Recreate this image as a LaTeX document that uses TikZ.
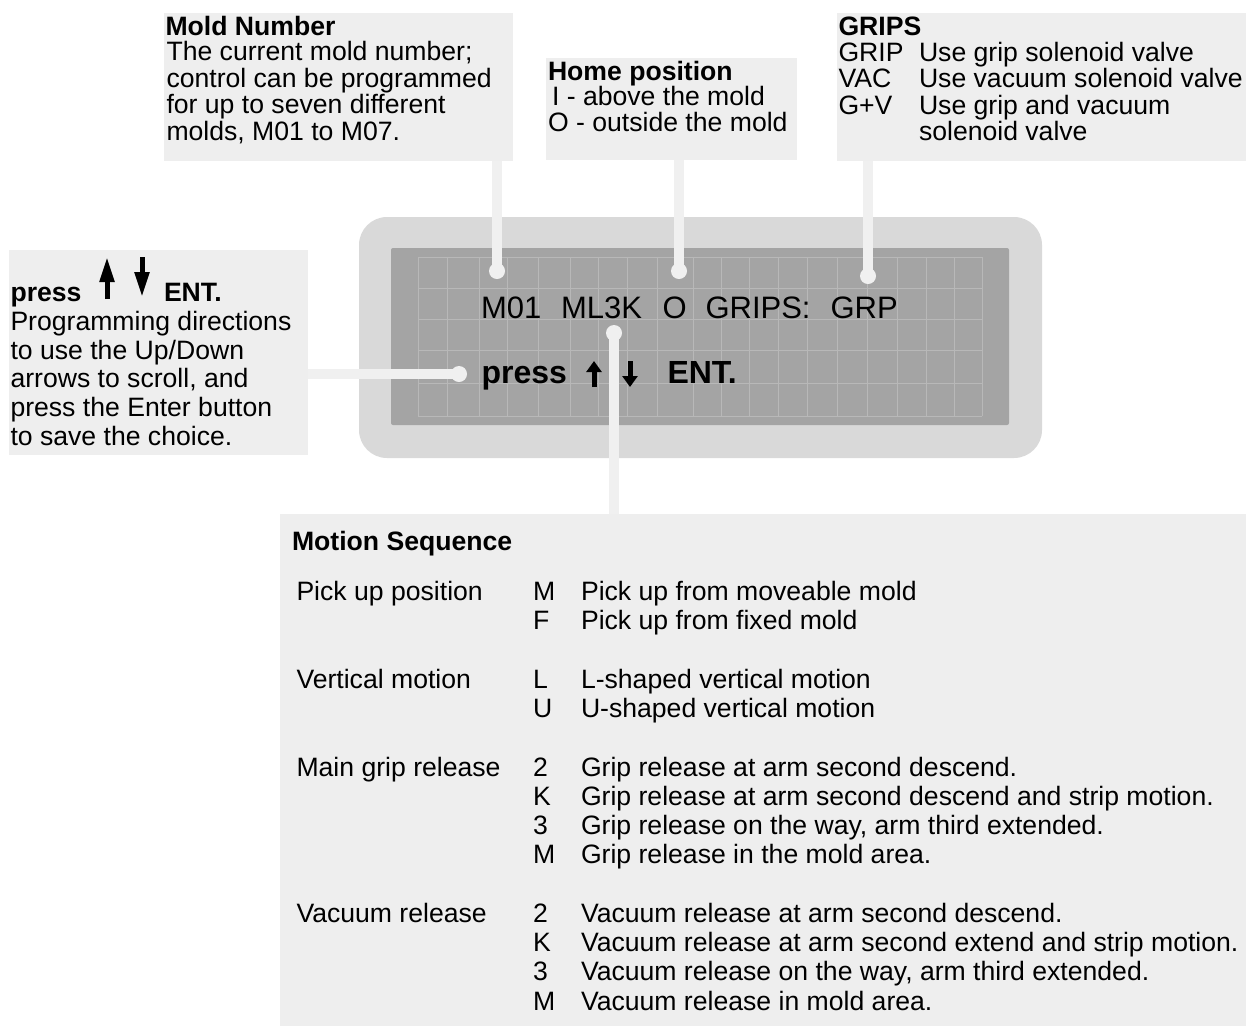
\documentclass[tikz,border=0pt]{standalone}
\usepackage{fontspec}
\setmainfont{Liberation Sans}
\usetikzlibrary{arrows.meta}
\definecolor{boxgray}{HTML}{EEEEEE}
\definecolor{conngray}{HTML}{F0F0F0}
\definecolor{bezel}{HTML}{D9D9D9}
\definecolor{lcd}{HTML}{A4A4A4}
\definecolor{lcdgrid}{HTML}{B8B8B8}
\newcommand\mybody{\fontsize{26.6}{26.4}\selectfont}
\newcommand\mylcd{\fontsize{31}{32}\selectfont}
\newcommand\mylcdb{\fontsize{32}{33}\selectfont}
\tikzset{
  box/.style={fill=boxgray, draw=none, inner sep=0pt, outer sep=0pt, anchor=north west},
  txt/.style={anchor=base west, inner sep=0pt, outer sep=0pt, font=\mybody},
  btxt/.style={txt, font=\mybody\bfseries},
  lcdtxt/.style={anchor=base west, inner sep=0pt, outer sep=0pt, font=\mylcd},
  lcdbold/.style={lcdtxt, font=\mylcdb\bfseries},
  conn/.style={draw=conngray, line width=10pt},
  dotc/.style={circle, fill=conngray, minimum size=16pt, inner sep=0pt, outer sep=0pt},
  gridline/.style={draw=lcdgrid, line width=1pt},
  keyup/.style={line width=5pt, -{Triangle[width=14pt,length=25pt]}},
  keysmall/.style={line width=5pt, -{Triangle[width=15pt,length=11pt]}}
}
\begin{document}
\begin{tikzpicture}[x=1pt,y=-1pt]
\useasboundingbox (0,0) rectangle (1246,1026);

% callout boxes
\node[box, minimum width=349pt, minimum height=148pt] (mold) at (164,13) {};
\node[box, minimum width=251pt, minimum height=102pt] (home) at (546,58) {};
\node[box, minimum width=409pt, minimum height=148pt] (grips) at (837,13) {};
\node[box, minimum width=299pt, minimum height=205pt] (pressbox) at (9,250) {};
\node[box, minimum width=966pt, minimum height=512pt] (motion) at (280,514) {};

% display
\node[box, fill=bezel, rounded corners=28pt, minimum width=683pt, minimum height=241pt] (bezel) at (359,217) {};
\node[box, fill=lcd, rounded corners=2pt, minimum width=618pt, minimum height=177pt] (lcd) at (391,248) {};
\foreach \gx in {418,447,479,507,538,570,598,627,657,693,721,749,778,807,837,867,897,926,954,982}
  \draw[gridline] (\gx,257) -- (\gx,416);
\foreach \gy in {257,288,319,350,383,416}
  \draw[gridline] (418,\gy) -- (982,\gy);

% connectors
\node[dotc] (moldend) at (497,271) {};
\node[dotc] (homeend) at (679,271) {};
\node[dotc] (gripsend) at (868,276) {};
\node[dotc] (pressend) at (459,374) {};
\node[dotc] (motionend) at (614,333) {};
\draw[conn] (mold.south -| moldend.center) -- (moldend.center);
\draw[conn] (home.south -| homeend.center) -- (homeend.center);
\draw[conn] (grips.south -| gripsend.center) -- (gripsend.center);
\draw[conn] (pressbox.east |- pressend.center) -- (pressend.center);
\draw[conn] (motion.north -| motionend.center) -- (motionend.center);

% LCD text
\node[lcdtxt] (w1) at (481,318) {M01};
\node[lcdtxt] (w2) at (561,318) {ML3K};
\node[lcdtxt] (w3) at (662.5,318) {O};
\node[lcdtxt] (w4) at (705.5,318) {GRIPS:};
\node[lcdtxt] (w5) at (830.5,318) {GRP};
\node[lcdbold] (lp) at (481.5,383) {press};
\coordinate (lupb) at (594,387);
\coordinate (lupt) at (594,361);
\coordinate (ldnt) at (630,361);
\coordinate (ldnb) at (630,387);
\draw[keysmall] (lupb) -- (lupt);
\draw[keysmall] (ldnt) -- (ldnb);
\node[lcdbold] (le) at (667.5,383) {ENT.};

% Mold number
\node[btxt] (m0) at (165.5,35) {Mold Number};
\node[txt] (m1) at (166.5,60.8) {The current mold number;};
\node[txt] (m2) at (166.5,87.2) {control can be programmed};
\node[txt] (m3) at (166.5,113.6) {for up to seven different};
\node[txt] (m4) at (166.5,140) {molds, M01 to M07.};

% Home position
\node[btxt] (h0) at (548,80.7) {Home position};
\node[txt] (h1) at (552,105.8) {I - above the mold};
\node[txt] (h2) at (548,131.6) {O - outside the mold};

% GRIPS
\node[btxt] (g0) at (838.5,35) {GRIPS};
\node[txt] (g1) at (838.5,61) {GRIP};
\node[txt] (g1d) at (919,61) {Use grip solenoid valve};
\node[txt] (g2) at (838.5,87.5) {VAC};
\node[txt] (g2d) at (919,87.5) {Use vacuum solenoid valve};
\node[txt] (g3) at (838.5,114) {G+V};
\node[txt] (g3d) at (919,114) {Use grip and vacuum};
\node[txt] (g4d) at (919,140.5) {solenoid valve};

% press box
\node[btxt] (p0) at (10.5,301.7) {press};
\coordinate (kupb) at (107,299);
\coordinate (kupt) at (107,257);
\coordinate (kdnt) at (142,257);
\coordinate (kdnb) at (142,297);
\draw[keyup] (kupb) -- (kupt);
\draw[keyup] (kdnt) -- (kdnb);
\node[btxt] (p0e) at (164,301.7) {ENT.};
\node[txt] (p1) at (10.5,330.7) {Programming directions};
\node[txt] (p2) at (10.5,359.2) {to use the Up/Down};
\node[txt] (p3) at (10.5,387.8) {arrows to scroll, and};
\node[txt] (p4) at (10.5,416.4) {press the Enter button};
\node[txt] (p5) at (10.5,445) {to save the choice.};

% Motion sequence
\node[btxt] (ms) at (292,550.7) {Motion Sequence};
\foreach \i/\lab in {0/{Pick up position}, 3/{Vertical motion}, 6/{Main grip release}, 11/{Vacuum release}}
  \node[txt] (lab\i) at (296.5,{600.5+\i*29.25}) {\lab};
\foreach \i/\code/\desc in {
  0/M/{Pick up from moveable mold},
  1/F/{Pick up from fixed mold},
  3/L/{L-shaped vertical motion},
  4/U/{U-shaped vertical motion},
  6/2/{Grip release at arm second descend.},
  7/K/{Grip release at arm second descend and strip motion.},
  8/3/{Grip release on the way, arm third extended.},
  9/M/{Grip release in the mold area.},
  11/2/{Vacuum release at arm second descend.},
  12/K/{Vacuum release at arm second extend and strip motion.},
  13/3/{Vacuum release on the way, arm third extended.},
  14/M/{Vacuum release in mold area.}}
{
  \node[txt] (code\i) at (533,{600.5+\i*29.25}) {\code};
  \node[txt] (desc\i) at (581,{600.5+\i*29.25}) {\desc};
}
\end{tikzpicture}
\end{document}
